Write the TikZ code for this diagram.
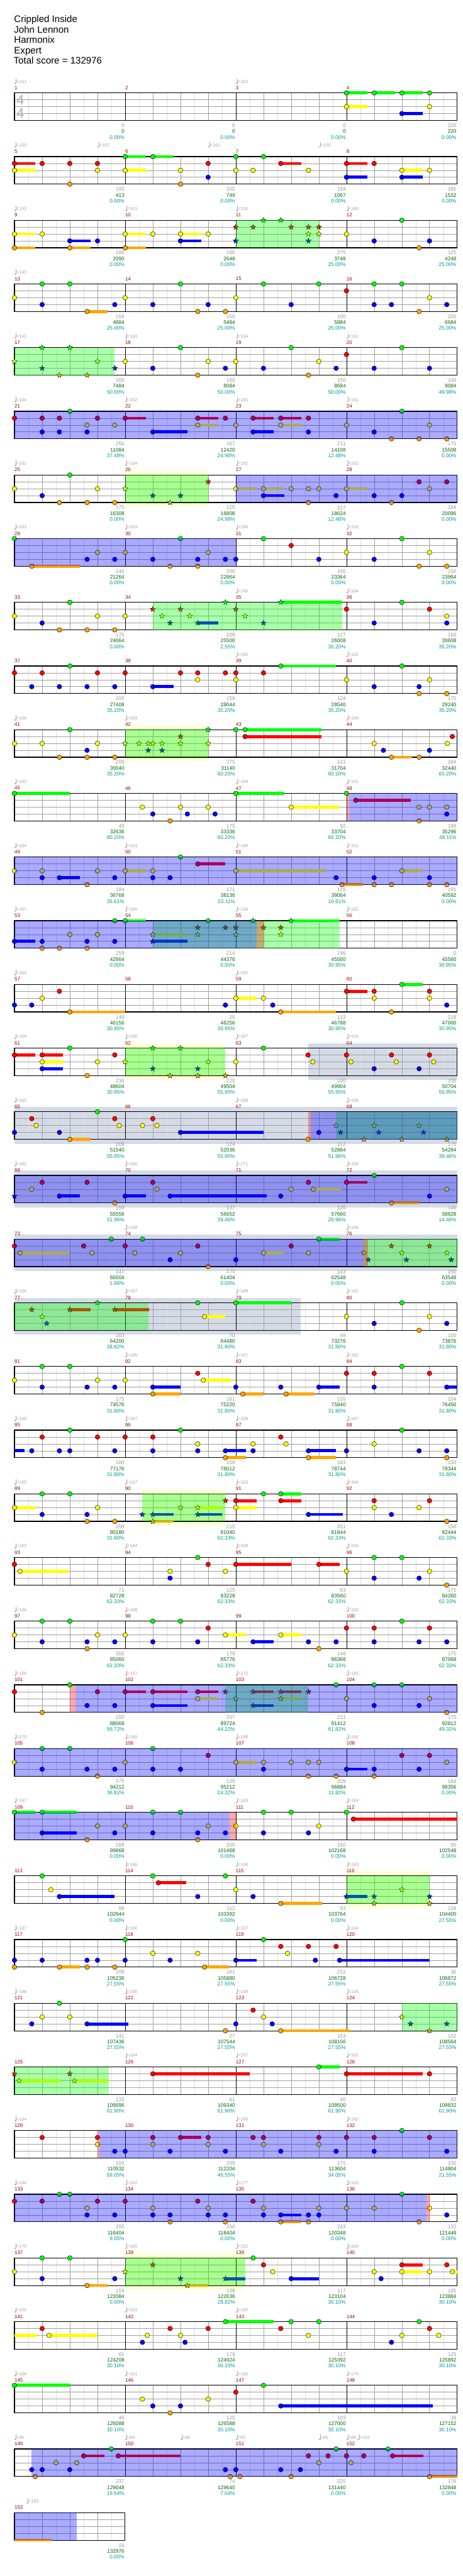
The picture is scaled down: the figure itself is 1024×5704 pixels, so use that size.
\documentclass[tikz,border=0pt]{standalone}
\usepackage{fontspec}
\setmainfont{Liberation Sans}
\usetikzlibrary{shapes.geometric}

\definecolor{lane0}{RGB}{0,255,0}
\definecolor{lane1}{RGB}{255,0,0}
\definecolor{lane2}{RGB}{255,255,0}
\definecolor{lane3}{RGB}{0,0,255}
\definecolor{lane4}{RGB}{255,165,0}
\definecolor{barred}{RGB}{153,0,0}
\definecolor{tempogray}{RGB}{165,165,165}
\definecolor{scoregray}{RGB}{150,150,150}
\definecolor{scoregreen}{RGB}{0,100,0}
\definecolor{scorecyan}{RGB}{0,150,150}
\definecolor{phrasebg}{RGB}{255,255,214}
\definecolor{whiskbg}{RGB}{213,219,230}
\definecolor{palegrid}{RGB}{224,224,224}
\definecolor{beatgrid}{RGB}{160,160,160}

% one staff row: #1 row index, #2 number of bars
\newcommand{\staffrow}[2]{%
  \pgfmathsetmacro\sy{205.7+141*#1}%
  \pgfmathsetmacro\sx{32+245*#2}%
  \pgfmathtruncatemacro\glast{8*#2-1}%
  \pgfmathtruncatemacro\glastb{8*#2-2}%
  \foreach \gi in {1,3,...,\glast}
    \draw[eighthline] ({32+30.625*\gi},\sy) -- ++(0,61);
  \foreach \gi in {2,4,...,\glastb}
    \draw[beatline] ({32+30.625*\gi},\sy) -- ++(0,61);
  \foreach \gi in {1,2,3}
    \draw[laneline] (32,\sy+15.25*\gi) -- (\sx,\sy+15.25*\gi);
  \ifnum#2>1
    \foreach \mi in {2,...,#2}
      \draw[barline] ({32+245*(\mi-1)},\sy) -- ++(0,61);
  \fi
  \draw[staffframe] (32,\sy) rectangle (\sx,\sy+61);
  \foreach \mi in {1,...,#2}{%
    \pgfmathtruncatemacro\mn{4*#1+\mi}%
    \node[barlabel] (bar\mn) at ({32+245*(\mi-1)},\sy-11.4) {\mn};}}

% plain notes: #1 row, #2 lane, #3 positions in eighths
\newcommand{\nts}[3]{%
  \foreach \xe in {#3}{%
    \pgfmathsetmacro\nx{32+30.625*\xe}%
    \pgfmathsetmacro\ny{205.7+141*#1+15.25*#2}%
    \draw[notehead,fill=lane#2] (\nx,\ny) circle (5.2pt);}}
% sustained notes: pos/length
\newcommand{\sus}[3]{%
  \foreach \xe/\xs in {#3}{%
    \pgfmathsetmacro\nx{32+30.625*\xe}%
    \pgfmathsetmacro\ny{205.7+141*#1+15.25*#2}%
    \fill[lane#2] (\nx,\ny-3.3) rectangle ({\nx+30.625*\xs},\ny+3.3);
    \draw[notehead,fill=lane#2] (\nx,\ny) circle (5.2pt);}}
% star power notes
\newcommand{\sts}[3]{%
  \foreach \xe in {#3}{%
    \pgfmathsetmacro\nx{32+30.625*\xe}%
    \pgfmathsetmacro\ny{205.7+141*#1+15.25*#2}%
    \node[starnote,fill=lane#2] at (\nx,\ny) {};}}
\newcommand{\ssus}[3]{%
  \foreach \xe/\xs in {#3}{%
    \pgfmathsetmacro\nx{32+30.625*\xe}%
    \pgfmathsetmacro\ny{205.7+141*#1+15.25*#2}%
    \fill[lane#2] (\nx,\ny-3.3) rectangle ({\nx+30.625*\xs},\ny+3.3);
    \node[starnote,fill=lane#2] at (\nx,\ny) {};}}
% sustain carried over from the row before
\newcommand{\tail}[4]{%
  \pgfmathsetmacro\ny{205.7+141*#1+15.25*#2}%
  \fill[lane#2] ({32+30.625*#3},\ny-3.3) rectangle ({32+30.625*(#3+#4)},\ny+3.3);}
% shaded overlay (star power / overdrive) and tall backgrounds
\newcommand{\ovl}[4]{%
  \pgfmathsetmacro\sy{205.7+141*#1}%
  \fill[#4,fill opacity=0.3333] ({32+30.625*#2},\sy) rectangle ({32+30.625*#3},\sy+61);}
\newcommand{\bgr}[4]{%
  \pgfmathsetmacro\sy{205.7+141*#1}%
  \fill[#4] ({32+30.625*#2},\sy-10.7) rectangle ({32+30.625*#3},\sy+71);}
\newcommand{\tempo}[2]{%
  \pgfmathsetmacro\sy{205.7+141*#1}%
  \foreach \xe/\bpm in {#2}{%
    \pgfmathsetmacro\tx{32+30.625*\xe}%
    \fill[tempogray] (\tx+1.8,\sy-21.4) ellipse (2.1pt and 1.5pt);
    \draw[tempogray,line width=0.6pt] (\tx+3.6,\sy-21.6) -- (\tx+3.6,\sy-32);
    \node[tempolabel] at (\tx+4.3,\sy-25.2) {=\bpm};}}
\newcommand{\scores}[2]{%
  \pgfmathsetmacro\sy{205.7+141*#1}%
  \foreach \sa/\sb/\sc [count=\si] in {#2}{%
    \pgfmathsetmacro\scx{32+245*\si-1.4}%
    \node[scorelabel,text=scoregray] at (\scx,\sy+72.3) {\sa};
    \node[scorelabel,text=scoregreen] at (\scx,\sy+85.3) {\sb};
    \node[scorelabel,text=scorecyan] at (\scx,\sy+98.3) {\sc\%};}}

\begin{document}
\begin{tikzpicture}[
  x=1pt,y=-1pt,
  notehead/.style={draw=black,line width=0.6pt},
  starnote/.style={star,star points=5,star point ratio=2.25,minimum size=12.5pt,
    inner sep=0pt,draw=black,line width=0.5pt},
  eighthline/.style={draw=palegrid,line width=0.6pt},
  beatline/.style={draw=beatgrid,line width=0.7pt},
  laneline/.style={draw=beatgrid,line width=1pt},
  barline/.style={draw=black,line width=0.7pt},
  staffframe/.style={draw=black,line width=1.6pt},
  barlabel/.style={anchor=west,inner sep=0pt,text=barred,font=\fontsize{11}{12}\selectfont},
  tempolabel/.style={anchor=west,inner sep=0pt,text=tempogray,font=\fontsize{10}{11}\selectfont},
  scorelabel/.style={anchor=east,inner sep=0pt,font=\fontsize{11.5}{12}\selectfont},
  titletext/.style={anchor=base west,inner sep=0pt,font=\fontsize{21}{24}\selectfont},
  timesig/.style={inner sep=0pt,text=black!33,font=\fontsize{30}{30}\selectfont}
]
\useasboundingbox (0,0) rectangle (1024,5704);
\fill[white] (0,0) rectangle (1024,5704);

\node[titletext] (song) at (31,49.5) {Crippled Inside};
\node[titletext] (artist) at (31,72.5) {John Lennon};
\node[titletext] (author) at (31,95.5) {Harmonix};
\node[titletext] (level) at (31,118.5) {Expert};
\node[titletext] (total) at (30,141.5) {Total score = 132976};

% bars 1-4
\staffrow{0}{4}
\node[timesig] (tsnum) at (45,221) {4};
\node[timesig] (tsden) at (45,250.5) {4};
\sus{0}{0}{24/1.5,26/1.5,28/1.5} \nts{0}{0}{30}
\sus{0}{2}{24/1.5} \nts{0}{2}{30}
\sus{0}{3}{28/1.5}
\tempo{0}{0/151,16/152}
\scores{0}{0/0/0.00,0/0/0.00,0/0/0.00,220/220/0.00}

% bars 5-8
\staffrow{1}{4}
\sus{1}{0}{8/1.5,10/1.5} \nts{1}{0}{16,18}
\sus{1}{1}{0/1.5,19.25/1.5,24/1.5} \nts{1}{1}{2,4,6,14,26}
\sus{1}{2}{0/1.5,8/1.5,28/1.5} \nts{1}{2}{6,12,16,17.25,21.25,30}
\sus{1}{3}{24/1.5,28/1.5} \nts{1}{3}{14}
\nts{1}{4}{4,12}
\tempo{1}{0/150,6/157,14/161,22/155}
\scores{1}{193/413/0.00,202/749/0.00,159/1067/0.00,186/1532/0.00}

% bars 9-12
\staffrow{2}{4}
\nts{2}{0}{28} \sts{2}{0}{18,19.25}
\sts{2}{1}{16,17.25,20,21.25,22}
\sus{2}{2}{0/1.5,8/1.5,12/1.5} \nts{2}{2}{2,10,14,24} \sts{2}{2}{21.25,22}
\sus{2}{3}{4/1.5,12/1.5} \nts{2}{3}{6,26,30} \sts{2}{3}{16,21.25}
\sus{2}{4}{0/1.5,4/1.5,8/1.5} \nts{2}{4}{29.25}
\ovl{2}{16}{22}{lane0}
\tempo{2}{0/153,8/151,16/155,24/160}
\scores{2}{186/2090/0.00,186/2648/0.00,275/3748/25.00,125/4248/25.00}

% bars 13-16
\staffrow{3}{4}
\nts{3}{0}{2,4,12,18,22,26,28}
\nts{3}{1}{24}
\nts{3}{2}{0,8,16,30}
\nts{3}{3}{2,7.25,10,14,20,26,27.25,31.25}
\sus{3}{4}{5.25/1.5} \nts{3}{4}{13.25,15.25,29.25}
\tempo{3}{0/163}
\scores{3}{159/4884/25.00,150/5484/25.00,100/5884/25.00,200/6684/25.00}

% bars 17-20
\staffrow{4}{4}
\nts{4}{0}{12,20,28} \sts{4}{0}{2,4}
\nts{4}{1}{24}
\nts{4}{2}{8,14,16,22} \sts{4}{2}{0,6}
\nts{4}{3}{10,15.25,18,23.25,26,30} \sts{4}{3}{2,7.25}
\nts{4}{4}{13.25,21.25} \sts{4}{4}{3.25,5.25}
\ovl{4}{0}{7.25}{lane0}
\tempo{4}{0/161,8/163,16/164,24/161}
\scores{4}{200/7484/50.00,150/8084/50.00,150/8684/50.00,100/9084/49.98}

% bars 21-24
\staffrow{5}{4}
\nts{5}{0}{4,28}
\sus{5}{1}{8/1.5,13.25/1.5,17.25/1.5,19.25/1.5} \nts{5}{1}{0,2,3.25,6,15.25,21.25}
\sus{5}{2}{13.25/1.5,19.25/1.5} \nts{5}{2}{5.25,7.25,16,24,30}
\sus{5}{3}{10/2.5,17.25/1.5} \nts{5}{3}{2,3.25,5.25,21.25,26}
\nts{5}{4}{27.25,29.25,31.25}
\ovl{5}{0}{32}{lane3}
\tempo{5}{0/164,8/162,16/165,24/161}
\scores{5}{250/11084/37.48,167/12420/24.98,211/14108/12.48,175/15508/0.00}

% bars 25-28
\bgr{6}{8}{14}{phrasebg}
\staffrow{6}{4}
\nts{6}{0}{4}
\nts{6}{1}{29.25,31.25} \sts{6}{1}{14}
\sus{6}{2}{16/1.5,18/1.5,24/1.5} \nts{6}{2}{0,6,20,21.25,22,30} \sts{6}{2}{8}
\sus{6}{3}{18/1.5} \nts{6}{3}{2,23.25,26,28} \sts{6}{3}{10,12}
\nts{6}{4}{3.25,5.25,7.25,21.25,27.25} \sts{6}{4}{11.25}
\ovl{6}{8}{14}{lane0} \ovl{6}{16}{32}{lane3}
\tempo{6}{0/162,8/164,16/162,24/162}
\scores{6}{175/16308/0.00,125/16808/24.98,227/18624/12.48,184/20096/0.00}

% bars 29-32
\staffrow{7}{4}
\nts{7}{0}{0,12,18,28}
\nts{7}{1}{20}
\nts{7}{2}{6,8,14,24,30}
\nts{7}{3}{5.25,7.25,10,13.25,15.25,16,22,26}
\sus{7}{4}{1.25/3.5} \nts{7}{4}{11.25,13.25,29.25,31.25}
\ovl{7}{0}{16}{lane3}
\tempo{7}{0/163,8/163,16/166,24/162}
\scores{7}{146/21264/0.00,200/22864/0.00,100/23364/0.00,150/23964/0.00}

% bars 33-36
\staffrow{8}{4}
\nts{8}{0}{4,28} \sts{8}{0}{15.25} \ssus{8}{0}{19.25/4.45}
\nts{8}{1}{24,30} \sts{8}{1}{10,12,16}
\nts{8}{2}{0,6,8,31.25} \sts{8}{2}{10.67,12.67,16.67}
\nts{8}{3}{2,26,31.25} \sts{8}{3}{11.25,18} \ssus{8}{3}{13.25/1.5}
\nts{8}{4}{3.25,5.25,7.25}
\ovl{8}{10}{23.7}{lane0}
\tempo{8}{16/166,24/164}
\scores{8}{175/24664/0.00,209/25500/2.55,127/26008/35.20,150/26608/35.20}

% bars 37-40
\staffrow{9}{4}
\sus{9}{0}{19.25/4} \nts{9}{0}{4,28}
\nts{9}{1}{0,2,6,8,12,13.25,15.25,16,18}
\nts{9}{2}{13.25,16,24,30}
\sus{9}{3}{10/1.5} \nts{9}{3}{1.25,3.25,5.25,7.25,26,29.25}
\nts{9}{4}{29.25,31.25}
\tempo{9}{16/165,24/162}
\scores{9}{200/27408/35.20,159/28044/35.20,124/28540/35.20,175/29240/35.20}

% bars 41-44
\bgr{10}{8}{14}{phrasebg}
\staffrow{10}{4}
\sus{10}{0}{16.67/5.5} \nts{10}{0}{4,16} \sts{10}{0}{14}
\sus{10}{1}{16.67/5.5} \nts{10}{1}{31.65} \sts{10}{1}{12}
\nts{10}{2}{0,2,6,26,31.3} \sts{10}{2}{8,9,9.67,10,10.67,12,14}
\nts{10}{3}{5.25,26.67,30} \sts{10}{3}{9.67,10.67}
\sus{10}{4}{27.25/1.5} \nts{10}{4}{3.25,5.25,7.25,29.25}
\ovl{10}{8}{14}{lane0}
\tempo{10}{0/166,8/163,24/164}
\scores{10}{200/30040/35.20,275/31140/60.20,141/31704/60.20,184/32440/60.20}

% bars 45-48
\staffrow{11}{4}
\sus{11}{0}{0/4,16/3.5} \nts{11}{0}{24}
\sus{11}{1}{24.67/4}
\sus{11}{2}{20/3.5} \nts{11}{2}{9.25,12,14,29.25,30,31.25}
\nts{11}{3}{10,12.5,14.5,31.25}
\nts{11}{4}{11.25,29.25}
\ovl{11}{24.2}{32}{lane3} \ovl{11}{24}{24.2}{lane1}
\tempo{11}{0/162,16/164,24/161}
\scores{11}{49/32636/60.20,175/33336/60.20,92/33704/60.20,199/35296/48.11}

% bars 49-52
\staffrow{12}{4}
\nts{12}{0}{12}
\sus{12}{1}{13.25/2}
\sus{12}{2}{8/1.5,16/6.5,28/1.5} \nts{12}{2}{0,2,6,10}
\sus{12}{3}{3.25/1.5} \nts{12}{3}{2,7.25,10,11.25,23.25,26,30}
\sus{12}{4}{23.67/1.5} \nts{12}{4}{5.25,26,27.25,30,31.25}
\ovl{12}{0}{32}{lane3}
\tempo{12}{0/164,8/163,16/166,24/161}
\scores{12}{184/36768/35.61,171/38136/23.11,116/39064/10.61,191/40592/0.00}

% bars 53-56
\staffrow{13}{4}
\sus{13}{0}{8/1.5} \nts{13}{0}{7.25} \sts{13}{0}{14,17.25} \ssus{13}{0}{20/3.5}
\sts{13}{1}{13.25,15.25,16,18,19.25}
\nts{13}{2}{4,6} \ssus{13}{2}{10/2.5} \sts{13}{2}{13.25,16,19.25}
\sus{13}{3}{0/1.5} \nts{13}{3}{2,5.25,7.25} \ssus{13}{3}{10/2.5}
\nts{13}{4}{2,3.25,5.25}
\ovl{13}{10}{23.5}{lane0} \ovl{13}{0}{17.5}{lane3} \ovl{13}{17.5}{18}{lane1}
\tempo{13}{0/167,8/165,16/166,24/162}
\scores{13}{259/42664/0.00,214/44376/0.00,196/45560/30.95,0/45560/30.95}

% bars 57-60
\staffrow{14}{4}
\sus{14}{0}{28/1.5}
\sus{14}{1}{24/1.5} \nts{14}{1}{3.25,26,30}
\sus{14}{2}{16/1.5} \nts{14}{2}{2,18,26,30}
\nts{14}{3}{0,1.25,15.25,18.67,31.25}
\sus{14}{4}{4/4,19.25/4} \nts{14}{4}{27.25}
\tempo{14}{0/164,16/165}
\scores{14}{149/46156/30.95,25/46256/30.95,133/46788/30.95,218/47660/30.95}

% bars 61-64
\bgr{15}{8}{15.22}{phrasebg} \bgr{15}{21.22}{32}{whiskbg}
\staffrow{15}{4}
\nts{15}{0}{4,18} \sts{15}{0}{10,12}
\sus{15}{1}{0/1.5,2/1.5} \nts{15}{1}{7.25,21.22,24,27.25,30}
\sus{15}{2}{2/1.5} \nts{15}{2}{6,16,21.57,24.33,27.6,30.3} \sts{15}{2}{8,14}
\sus{15}{3}{2/1.5} \nts{15}{3}{26,29.25} \sts{15}{3}{10,13.25}
\nts{15}{4}{5.25} \sts{15}{4}{11.25,13.25,15.25}
\ovl{15}{8}{15.22}{lane0}
\tempo{15}{0/164,8/165,16/167,24/163}
\scores{15}{236/48604/30.95,225/49504/55.95,100/49904/55.95,200/50704/55.95}

% bars 65-68
\bgr{16}{0}{32}{whiskbg}
\staffrow{16}{4}
\nts{16}{0}{6}
\nts{16}{1}{1.25,7.25,10}
\nts{16}{2}{1.57,7.57,9.25,10.3} \sts{16}{2}{23.25,26,29.25}
\sus{16}{3}{12/6} \nts{16}{3}{0,3.25,22} \sts{16}{3}{23.57,26.33,29.57}
\sus{16}{4}{4/1.5} \nts{16}{4}{21.22} \sts{16}{4}{25.25,28,31.25}
\ovl{16}{23.25}{32}{lane0} \ovl{16}{21.4}{32}{lane3} \ovl{16}{21.22}{21.4}{lane1}
\tempo{16}{0/165,16/168,24/166}
\scores{16}{209/51540/55.95,124/52036/55.95,112/52884/51.96,175/54284/39.46}

% bars 69-72
\bgr{17}{0}{32}{whiskbg}
\staffrow{17}{4}
\nts{17}{0}{26}
\sus{17}{1}{24/1.5} \nts{17}{1}{2,5.25,10,21.25}
\sus{17}{2}{21.6/2} \nts{17}{2}{1.25,10.3,20,31.25}
\sus{17}{3}{3.25/1.5,8/1.5,11.25/7} \nts{17}{3}{19.25,30} \sts{17}{3}{0}
\sus{17}{4}{27.25/2} \nts{17}{4}{7.25}
\ovl{17}{0}{32}{lane3}
\tempo{17}{0/165,8/166,16/171,24/166}
\scores{17}{159/55556/51.96,137/56652/39.46,126/57660/26.96,146/58828/14.46}

% bars 73-76
\bgr{18}{0}{32}{whiskbg}
\staffrow{18}{4}
\sus{18}{0}{22/1.5} \nts{18}{0}{7,9.25}
\nts{18}{1}{0,5,8,13.25,20} \sts{18}{1}{27.25,30}
\sus{18}{2}{0.4/3.6,18/1.5} \nts{18}{2}{5.6,8.7,12,21.25} \sts{18}{2}{25.25,28,31.25}
\nts{18}{3}{11.25,16} \sts{18}{3}{25.57,28.33,31.57}
\nts{18}{4}{14}
\ovl{18}{25.25}{32}{lane0} \ovl{18}{0}{25.25}{lane3} \ovl{18}{25.25}{25.56}{lane1}
\tempo{18}{8/168,24/166}
\scores{18}{147/60004/1.96,175/61404/0.00,143/62548/0.00,200/63548/0.00}

% bars 77-80
\bgr{19}{0}{20.7}{whiskbg}
\staffrow{19}{4}
\sus{19}{0}{16/4} \nts{19}{0}{13.25,28} \sts{19}{0}{6}
\sts{19}{1}{1.25} \ssus{19}{1}{4/1.5,7.25/2.5}
\sus{19}{2}{13.74/1.5} \nts{19}{2}{24,30} \sts{19}{2}{2}
\nts{19}{3}{26,31.25} \sts{19}{3}{2.33}
\nts{19}{4}{29.25}
\ovl{19}{0}{9.7}{lane0}
\tempo{19}{0/165,8/167,16/169,24/162}
\scores{19}{163/64200/28.82,70/64480/31.80,49/73276/31.80,150/73876/31.80}

% bars 81-84
\staffrow{20}{4}
\nts{20}{0}{2,4,28}
\nts{20}{1}{13.25,24,26,30}
\sus{20}{2}{13.65/2} \nts{20}{2}{0,6,8}
\sus{20}{3}{10/2,22/1.5,31.25/0.75} \nts{20}{3}{2,5.25,7.25,16,19.25,26}
\sus{20}{4}{10/2,16.5/1.5,19.63/2}
\tempo{20}{8/165,16/167,24/162}
\scores{20}{175/74576/31.80,161/75220/31.80,155/75840/31.80,154/76456/31.80}

% bars 85-88
\staffrow{21}{4}
\tail{21}{3}{0}{0.72}
\nts{21}{0}{4,12,28}
\nts{21}{1}{2,6,8,10,19.25}
\nts{21}{2}{13.25,17.25,19.63,26}
\sus{21}{3}{15.25/1.5,21.25/2} \nts{21}{3}{1.25,3.25,4,7.25,10,13.25,17.25,24,29.25,31.25}
\sus{21}{4}{15.25/1.5,21.25/2} \nts{21}{4}{31.25}
\tempo{21}{0/168,8/167,16/169,24/167}
\scores{21}{180/77176/31.80,209/78012/31.80,183/78744/31.80,150/79344/31.80}

% bars 89-92
\bgr{22}{9.25}{15.22}{phrasebg}
\staffrow{22}{4}
\sus{22}{0}{19.25/1.5} \nts{22}{0}{2,4,18}
\sus{22}{1}{16/1.5,19.25/1.5} \nts{22}{1}{26,30} \sts{22}{1}{15.25}
\sus{22}{2}{0/1.5,16/1.5} \nts{22}{2}{6,26,29.25} \sts{22}{2}{12} \ssus{22}{2}{13.25/1.75}
\sus{22}{3}{21.25/2.5} \nts{22}{3}{2,5.25,27.25} \sts{22}{3}{9.25} \ssus{22}{3}{10/1.5,13.25/1.75}
\nts{22}{4}{5.25,7.25,31.25} \ssus{22}{4}{10/1.5}
\ovl{22}{9.25}{15.22}{lane0}
\tempo{22}{0/166,8/167,16/163,24/164}
\scores{22}{209/80180/31.80,215/81040/62.33,201/81844/62.33,150/82444/62.33}

% bars 93-96
\staffrow{23}{4}
\nts{23}{0}{13.25,26,28}
\sus{23}{1}{16/4,22/1.5} \nts{23}{1}{0,14}
\sus{23}{2}{0.4/3.5} \nts{23}{2}{11.25,15.25,24,30}
\nts{23}{3}{11.25,26,29.25}
\nts{23}{4}{31.25}
\tempo{23}{0/163,8/164,16/168,24/164}
\scores{23}{71/82728/62.33,125/83228/62.33,83/83560/62.33,175/84260/62.33}

% bars 97-100
\staffrow{24}{4}
\nts{24}{0}{2,4,10,12,28}
\nts{24}{1}{14,24,26,30}
\sus{24}{2}{15.25/1.5,19.25/1.5} \nts{24}{2}{0,6,8}
\sus{24}{3}{17.25/1.5} \nts{24}{3}{2,5.25,7.25,10,13.25,21.25,23.25,26,29.25,31.25}
\nts{24}{4}{5.25,22}
\tempo{24}{0/166,8/168,24/165}
\scores{24}{200/85060/62.33,179/85776/62.33,148/86368/62.33,175/87068/62.33}

% bars 101-104
\staffrow{25}{4}
\nts{25}{0}{4,23.25,26,28}
\sus{25}{1}{8/1.5,10/2.5,13.25/1.5} \nts{25}{1}{0,6} \sts{25}{1}{15.25,21.25} \ssus{25}{1}{17.25/1.5,19.25/1.5}
\sus{25}{2}{13.25/1.5} \nts{25}{2}{24,30} \sts{25}{2}{16} \ssus{25}{2}{19.25/1.5}
\sus{25}{3}{10/2.5} \nts{25}{3}{5.25,7.25,26,29.25} \ssus{25}{3}{17.25/1.5}
\nts{25}{4}{2,31.25}
\ovl{25}{15.25}{21.22}{lane0} \ovl{25}{4.4}{32}{lane3} \ovl{25}{4}{4.4}{lane1}
\tempo{25}{0/168,8/167,16/172,24/165}
\scores{25}{150/88068/56.72,207/89724/44.22,211/91412/61.82,175/92812/49.32}

% bars 105-108
\staffrow{26}{4}
\nts{26}{0}{2,4,10}
\nts{26}{1}{14,28,30}
\sus{26}{2}{16/1.5} \nts{26}{2}{0,8,18,20,21.25,22,31.25}
\sus{26}{3}{24/1.5} \nts{26}{3}{2,5.25,7.25,10,12,18,26,29.25}
\nts{26}{4}{6,21.25,23.25,26}
\ovl{26}{0}{32}{lane3}
\tempo{26}{0/170,8/166,16/168,24/166}
\scores{26}{175/94212/36.82,125/95212/24.32,209/96884/11.82,184/98356/0.00}

% bars 109-112
\staffrow{27}{4}
\sus{27}{0}{0/1.5,2/2.5} \nts{27}{0}{10,12,18,20,24}
\sus{27}{1}{24.5/7.5}
\nts{27}{2}{6,8,14,16,22}
\sus{27}{3}{2/2.5} \nts{27}{3}{7.25,10,13.25,15.25,18,21.25}
\nts{27}{4}{5.25,13.25}
\ovl{27}{0}{15.56}{lane3} \ovl{27}{15.56}{16}{lane1}
\tempo{27}{0/167,16/163,24/164}
\scores{27}{189/99868/0.00,200/101468/0.00,150/102168/0.00,95/102548/0.00}

% bars 113-116
\bgr{28}{24}{30}{phrasebg}
\staffrow{28}{4}
\nts{28}{0}{2,10,15.25}
\sus{28}{1}{10.4/2}
\nts{28}{2}{2.63,16} \sts{28}{2}{28}
\sus{28}{3}{3.25/4} \nts{28}{3}{13.25,17.25} \ssus{28}{3}{24/1.5} \sts{28}{3}{26,30}
\sus{28}{4}{19.25/3} \sts{28}{4}{26,30}
\ovl{28}{24}{30}{lane0}
\tempo{28}{8/166,16/168,24/163}
\scores{28}{99/102944/0.00,112/103392/0.00,93/103764/0.00,159/104400/27.55}

% bars 117-120
\staffrow{29}{4}
\nts{29}{0}{8,18}
\nts{29}{1}{19.25,21.25,23.25}
\nts{29}{2}{10,13.25,19.74}
\sus{29}{3}{16/1.5,23.5/6.5} \nts{29}{3}{0,2,5.25,6,8,11.25,21.75}
\sus{29}{4}{3.25/1.5,13.74/1.75} \nts{29}{4}{0,5.25,7.25}
\tempo{29}{0/167,8/166,16/167,24/164}
\scores{29}{209/105236/27.55,161/105880/27.55,212/106728/27.55,36/106872/27.55}

% bars 121-124
\staffrow{30}{4}
\nts{30}{0}{3.25}
\nts{30}{1}{17.25}
\nts{30}{2}{2,4,18} \sts{30}{2}{28}
\sus{30}{3}{5.25/3} \nts{30}{3}{1.25,16,18.63} \sts{30}{3}{28.63,31.25}
\sus{30}{4}{19.25/5} \nts{30}{4}{15.25} \sts{30}{4}{30}
\ovl{30}{28}{32}{lane0}
\tempo{30}{0/168,8/165,16/169,24/165}
\scores{30}{141/107436/27.55,27/107544/27.55,153/108156/27.55,102/108564/27.55}

% bars 125-128
\staffrow{31}{4}
\sus{31}{0}{22/1.5}
\sus{31}{1}{10/7,24/5.5} \nts{31}{1}{30} \sts{31}{1}{0,4}
\ssus{31}{2}{0.33/3,4.33/2.5}
\ovl{31}{0}{6.8}{lane0}
\tempo{31}{8/164,16/167,24/162}
\scores{31}{133/109096/61.90,61/109340/61.90,40/109500/61.90,83/109832/61.90}

% bars 129-132
\staffrow{32}{4}
\nts{32}{0}{28}
\sus{32}{1}{12/1.5} \nts{32}{1}{2,6,10,14,17.25,18,22,24,26,30}
\nts{32}{2}{6,10,14,18,22}
\nts{32}{3}{7.25,8,11.25,15.25,19.25,23.25,26,31.25}
\ovl{32}{6.13}{32}{lane3} \ovl{32}{6}{6.13}{lane1}
\tempo{32}{0/164,16/169,24/160}
\scores{32}{100/110532/59.05,209/112204/46.55,175/113604/34.05,150/114804/21.55}

% bars 133-136
\staffrow{33}{4}
\nts{33}{0}{3.25,4,28}
\nts{33}{1}{0,2,6,8,13.25,17.25}
\nts{33}{2}{5.25,10,14,18,22,24,26,30}
\sus{33}{3}{19.25/1.5} \nts{33}{3}{5.25,7.25,10,11.25,14,15.25,18,21.25,22,31.25}
\sus{33}{4}{19.25/1.5} \nts{33}{4}{11.25,15.25,21.25,29.25}
\ovl{33}{0}{29.78}{lane3} \ovl{33}{29.78}{30}{lane1}
\tempo{33}{0/166,8/162,16/177,24/163}
\scores{33}{200/116404/9.05,250/118404/0.00,243/120348/0.00,150/121448/0.00}

% bars 137-140
\bgr{34}{8}{16.7}{phrasebg}
\staffrow{34}{4}
\nts{34}{0}{2,4,17.25}
\sus{34}{1}{28/1.5} \nts{34}{1}{18,31.25} \sts{34}{1}{10}
\sus{34}{2}{28/1.5,31.65/0.35} \nts{34}{2}{0,18.67,26,30} \sts{34}{2}{8}
\sus{34}{3}{20/2} \nts{34}{3}{2,7.25,26.5} \sts{34}{3}{12} \ssus{34}{3}{15.25/1.45}
\sus{34}{4}{5.25/1.5} \ssus{34}{4}{12.5/1.5}
\ovl{34}{8}{16.7}{lane0}
\tempo{34}{0/170,8/165,16/162,24/164}
\scores{34}{159/122084/0.00,138/122636/28.82,117/123104/30.10,195/123884/30.10}

% bars 141-144
\staffrow{35}{4}
\tail{35}{2}{0}{1.63}
\sus{35}{0}{15.25/3.5} \nts{35}{0}{20,22,29.25}
\nts{35}{1}{2,11.25,14,19.25,30}
\sus{35}{2}{2.5/3.5} \nts{35}{2}{9.6,12,21.25,28,30.67}
\nts{35}{3}{9.25,12.33,27.25}
\tempo{35}{0/165,8/163,16/165}
\scores{35}{81/124208/30.10,179/124924/30.10,117/125392/30.10,125/125892/30.10}

% bars 145-148
\staffrow{36}{4}
\sus{36}{0}{0/4} \nts{36}{0}{18}
\nts{36}{1}{16}
\nts{36}{2}{9.25,14}
\sus{36}{3}{19.25/11} \nts{36}{3}{10,12}
\nts{36}{4}{11.25}
\tempo{36}{0/166,8/161,16/166,24/170}
\scores{36}{49/126088/30.10,125/126588/30.10,103/127000/30.10,38/127152/30.10}

% bars 149-152
\staffrow{37}{4}
\nts{37}{0}{7,23.25,27}
\sus{37}{1}{5/1.5,7.5/4.5,27.33/2.25} \nts{37}{1}{21.25,22.67,24,25.25}
\nts{37}{2}{3,4.5,22,24.33}
\nts{37}{3}{1.25,2,4,15.25,16,19.25,20.67}
\sus{37}{4}{30/2} \nts{37}{4}{1.5,15.6,16.3,20}
\ovl{37}{1.24}{32}{lane3}
\tempo{37}{0/86,8/84,12/86,16/82,22/85,24/85,24.8/162}
\scores{37}{237/129048/19.54,74/129640/7.04,225/131440/0.00,176/132848/0.00}

% bar 153
\staffrow{38}{1}
\tail{38}{4}{0}{2.7}
\ovl{38}{0}{4.48}{lane3}
\tempo{38}{0.87/162}
\scores{38}{16/132976/0.00}
\end{tikzpicture}
\end{document}
